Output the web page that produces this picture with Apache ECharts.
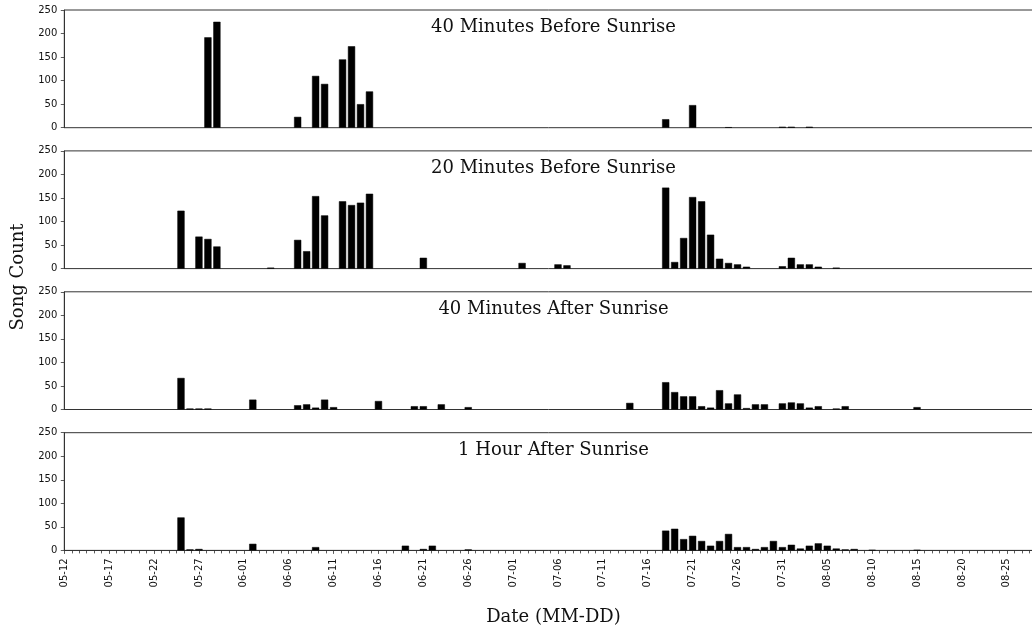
<!DOCTYPE html>
<html>
<head>
<meta charset="utf-8">
<script src="https://cdn.jsdelivr.net/npm/echarts@6/dist/echarts.min.js"></script>
<style>
  html, body { margin: 0; padding: 0; background: #fff; }
  #chart { width: 1032px; height: 627px; }
</style>
</head>
<body>
<div id="chart"></div>
<script>
// ---- data ----
const panelTitles = ['40 Minutes Before Sunrise', '20 Minutes Before Sunrise', '40 Minutes After Sunrise', '1 Hour After Sunrise'];

const dates40Before = ['05-28','05-29','06-07','06-09','06-10','06-12','06-13','06-14','06-15','07-18','07-21','07-25','07-31','08-01','08-03'];
const counts40Before = [192,225,23,110,93,145,173,50,77,18,48,1,2,2,2];

const dates20Before = ['05-25','05-27','05-28','05-29','06-04','06-07','06-08','06-09','06-10','06-12','06-13','06-14','06-15','06-21','07-02','07-06','07-07','07-18','07-19','07-20','07-21','07-22','07-23','07-24','07-25','07-26','07-27','07-31','08-01','08-02','08-03','08-04','08-06'];
const counts20Before = [123,68,63,47,2,61,37,154,113,143,135,140,159,23,12,9,7,172,14,65,152,143,72,21,12,9,4,5,23,9,9,4,2];

const dates40After = ['05-25','05-26','05-27','05-28','06-02','06-07','06-08','06-09','06-10','06-11','06-16','06-20','06-21','06-23','06-26','07-14','07-18','07-19','07-20','07-21','07-22','07-23','07-24','07-25','07-26','07-27','07-28','07-29','07-31','08-01','08-02','08-03','08-04','08-06','08-07','08-15'];
const counts40After = [67,2,2,2,21,9,11,4,21,5,18,7,7,11,5,14,58,37,28,28,7,4,41,13,32,3,11,11,13,15,13,4,7,2,7,5];

const dates1HAfter = ['05-25','05-26','05-27','06-02','06-09','06-19','06-21','06-22','06-26','07-18','07-19','07-20','07-21','07-22','07-23','07-24','07-25','07-26','07-27','07-28','07-29','07-30','07-31','08-01','08-02','08-03','08-04','08-05','08-06','08-07','08-08','08-10','08-15'];
const counts1HAfter = [70,2,3,14,7,10,3,10,2,42,46,24,31,20,10,20,35,7,7,3,7,20,7,12,4,10,15,10,4,2,3,1,1];

const xTickLabels = ['05-12','05-17','05-22','05-27','06-01','06-06','06-11','06-16','06-21','06-26','07-01','07-06','07-11','07-16','07-21','07-26','07-31','08-05','08-10','08-15','08-20','08-25'];
const yTickValues = [0, 50, 100, 150, 200, 250];
const xStartDate = '05-12';
const xEndDate = '08-29';

const axisTitleX = 'Date (MM-DD)';
const axisTitleY = 'Song Count';

// ---- helpers ----
function dayOf(md) {
  const [m, d] = md.split('-').map(Number);
  const [m0, d0] = xStartDate.split('-').map(Number);
  return Math.round((Date.UTC(2023, m - 1, d) - Date.UTC(2023, m0 - 1, d0)) / 86400000);
}

const panels = [
  [dates40Before, counts40Before],
  [dates20Before, counts20Before],
  [dates40After, counts40After],
  [dates1HAfter, counts1HAfter]
];

const gridLeft = 64.3;
const gridWidth = 978.4;
const gridTops = [10, 150.9, 291.8, 432.7];
const gridHeight = 117.7;
const sans = 'DejaVu Sans';
const serifFont = '18px "DejaVu Serif"';
const titleCenterX = gridLeft + gridWidth / 2;

const grids = [], xAxes = [], yAxes = [], series = [], graphics = [];

panels.forEach((p, i) => {
  const isLast = i === panels.length - 1;
  grids.push({
    left: gridLeft, width: gridWidth, top: gridTops[i], height: gridHeight,
    show: true, borderColor: '#333', borderWidth: 1, backgroundColor: 'transparent',
    containLabel: false, outerBoundsMode: 'none'
  });
  xAxes.push({
    type: 'value', gridIndex: i,
    min: 0, max: dayOf(xEndDate), interval: 5,
    splitLine: { show: false },
    axisLine: { show: isLast, lineStyle: { color: '#333', width: 1 } },
    axisTick: { show: isLast, length: 3.5, lineStyle: { color: '#333', width: 0.8 } },
    minorTick: { show: isLast, splitNumber: 6, length: 3, lineStyle: { color: '#333', width: 0.8 } },
    axisLabel: {
      show: isLast, rotate: 90, margin: 8,
      fontFamily: sans, fontSize: 10, color: '#111',
      showMinLabel: true, showMaxLabel: false,
      formatter: v => (v % 5 === 0 && xTickLabels[v / 5]) ? xTickLabels[v / 5] : ''
    }
  });
  yAxes.push({
    type: 'value', gridIndex: i,
    min: yTickValues[0], max: yTickValues[yTickValues.length - 1],
    interval: yTickValues[1] - yTickValues[0],
    splitLine: { show: false },
    axisLine: { show: true, lineStyle: { color: '#333', width: 1 } },
    axisTick: { show: true, length: 3.5, lineStyle: { color: '#333', width: 0.8 } },
    axisLabel: { margin: 7, fontFamily: sans, fontSize: 10, color: '#111' }
  });
  series.push({
    type: 'bar', xAxisIndex: i, yAxisIndex: i,
    barWidth: 7.2,
    itemStyle: { color: '#000', borderColor: '#000', borderWidth: 0.5 },
    data: p[0].map((d, k) => [dayOf(d), p[1][k]])
  });
  graphics.push({
    type: 'text', x: titleCenterX, y: gridTops[i] + 17.5,
    style: { text: panelTitles[i], font: serifFont, fill: '#111', textAlign: 'center', textVerticalAlign: 'middle' }
  });
});

graphics.push({
  type: 'text', x: titleCenterX, y: 617,
  style: { text: axisTitleX, font: serifFont, fill: '#111', textAlign: 'center', textVerticalAlign: 'middle' }
});
graphics.push({
  type: 'text', x: 18, y: 277, rotation: Math.PI / 2,
  style: { text: axisTitleY, font: serifFont, fill: '#111', textAlign: 'center', textVerticalAlign: 'middle' }
});

const chart = echarts.init(document.getElementById('chart'), null, { renderer: 'canvas' });
chart.setOption({
  animation: false,
  backgroundColor: '#fff',
  grid: grids,
  xAxis: xAxes,
  yAxis: yAxes,
  series: series,
  graphic: graphics
});
</script>
</body>
</html>
